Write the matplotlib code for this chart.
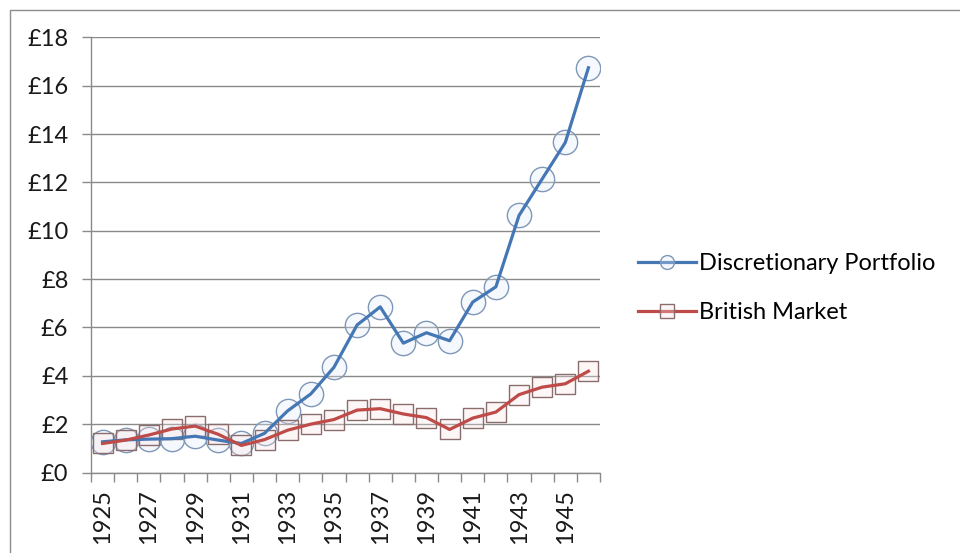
import matplotlib
matplotlib.use("Agg")
import matplotlib.pyplot as plt
import numpy as np
from matplotlib.lines import Line2D

years = list(range(1925, 1947))
discretionary = [1.27, 1.35, 1.38, 1.40, 1.50, 1.34, 1.20, 1.62, 2.55, 3.25, 4.35,
                 6.10, 6.85, 5.35, 5.78, 5.45, 7.05, 7.68, 10.63, 12.14, 13.65, 16.74]
british = [1.20, 1.34, 1.55, 1.80, 1.92, 1.58, 1.12, 1.36, 1.75, 2.00, 2.19,
           2.58, 2.64, 2.42, 2.27, 1.78, 2.25, 2.50, 3.22, 3.53, 3.67, 4.19]
series_names = ["Discretionary Portfolio", "British Market"]
y_ticks = list(range(0, 19, 2))
y_tick_labels = ["£%d" % v for v in y_ticks]

plt.rcParams['font.family'] = ['Lato', 'DejaVu Sans']
FS = 17
W, H = 960, 553
fig = plt.figure(figsize=(W / 100, H / 100), dpi=100)
ax = fig.add_axes([91 / W, 1 - 472.5 / H, (600 - 91) / W, (472.5 - 37.3) / H])

x = np.arange(len(years))
blue = "#4477B4"
red = "#BE4B48"
blue_face = (0.88, 0.92, 0.97, 0.3)
red_face = (0.98, 0.89, 0.89, 0.3)
blue_edge = "#7f97b8"
red_edge = "#8a6c6c"

ax.plot(x, discretionary, linestyle='none', marker='o', markersize=17.5,
        markerfacecolor=blue_face, markeredgecolor=blue_edge,
        markeredgewidth=1.0, zorder=3)
ax.plot(x, british, linestyle='none', marker='s', markersize=14.5,
        markerfacecolor=red_face, markeredgecolor=red_edge,
        markeredgewidth=1.0, zorder=3)
ax.plot(x, discretionary, color=blue, lw=2.3, zorder=4)
ax.plot(x, british, color=red, lw=2.3, zorder=4)

ax.set_xlim(-0.5, len(years) - 0.5)
ax.set_ylim(0, 18)
ax.set_yticks(y_ticks)
ax.set_yticklabels(y_tick_labels, fontsize=FS, color="#1a1a1a")
ax.grid(axis='y', color="#8a8a8a", lw=1.0)
ax.set_axisbelow(True)

ax.set_xticks(np.arange(-0.5, len(years), 1.0))
ax.set_xticklabels([])
ax.set_xticks(x[::2], minor=True)
ax.set_xticklabels([str(y) for y in years[::2]], minor=True, rotation=90,
                   fontsize=FS, color="#1a1a1a")
ax.tick_params(axis='x', which='major', length=6.5, width=1, color="#8a8a8a", direction='out')
ax.tick_params(axis='x', which='minor', length=0, pad=12)
ax.tick_params(axis='y', length=6.3, width=1, color="#8a8a8a", pad=10)

for s in ['top', 'right']:
    ax.spines[s].set_visible(False)
for s in ['left', 'bottom']:
    ax.spines[s].set_color("#8a8a8a")
    ax.spines[s].set_linewidth(1.0)

handles = [
    Line2D([], [], color=blue, lw=2.3, marker='o', markersize=10,
           markerfacecolor=blue_face, markeredgecolor=blue_edge, markeredgewidth=1.0),
    Line2D([], [], color=red, lw=2.3, marker='s', markersize=10,
           markerfacecolor=red_face, markeredgecolor=red_edge, markeredgewidth=1.0),
]
fig.legend(handles, series_names, loc='upper left',
           bbox_to_anchor=(638 / W, 1 - 253 / H), frameon=False, fontsize=FS,
           handlelength=2.45, handletextpad=0.15, labelspacing=1.2, borderpad=0,
           borderaxespad=0)

fig.add_artist(plt.Rectangle((9.5 / W, -0.05), 1.2, 1 - 10 / H + 0.05,
                             transform=fig.transFigure, fill=False,
                             edgecolor="#8c8c8c", lw=1.0))

fig.savefig("out.png", dpi=100)
